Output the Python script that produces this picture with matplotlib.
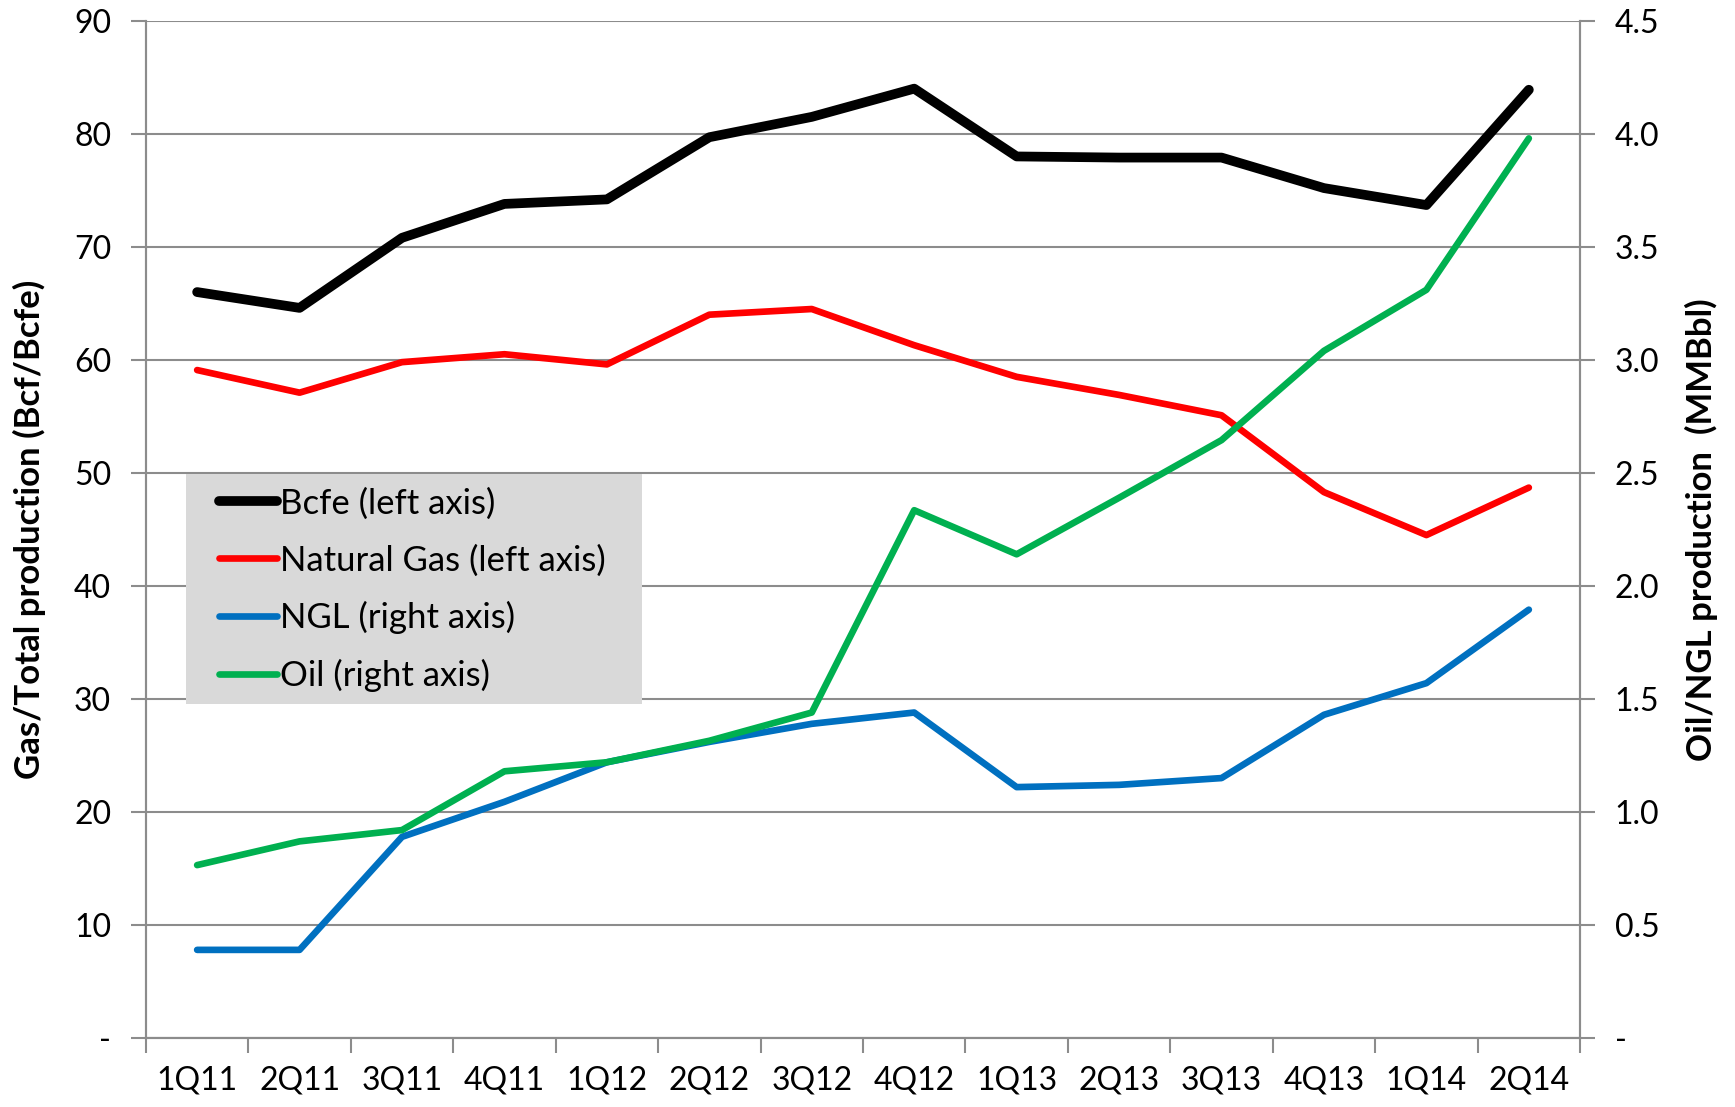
import numpy as np
import matplotlib.pyplot as plt
from matplotlib.patches import Rectangle
from matplotlib.ticker import FixedLocator, NullFormatter

plt.rcParams['font.family'] = ['Lato', 'DejaVu Sans']

quarters = ['1Q11', '2Q11', '3Q11', '4Q11', '1Q12', '2Q12', '3Q12', '4Q12',
            '1Q13', '2Q13', '3Q13', '4Q13', '1Q14', '2Q14']

# left axis (Bcf / Bcfe)
bcfe = [66.0, 64.6, 70.8, 73.8, 74.2, 79.7, 81.5, 84.0, 78.0, 77.9, 77.9, 75.2, 73.7, 83.9]
natgas = [59.1, 57.1, 59.8, 60.5, 59.6, 64.0, 64.5, 61.3, 58.5, 56.9, 55.1, 48.3, 44.5, 48.7]

# right axis (MMBbl)
ngl = [0.39, 0.39, 0.89, 1.045, 1.22, 1.31, 1.39, 1.44, 1.11, 1.12, 1.15, 1.43, 1.57, 1.895]
oil = [0.765, 0.87, 0.92, 1.18, 1.22, 1.315, 1.44, 2.335, 2.14, 2.39, 2.645, 3.04, 3.31, 3.98]

left_ticks = [0, 10, 20, 30, 40, 50, 60, 70, 80, 90]
left_labels = ['-', '10', '20', '30', '40', '50', '60', '70', '80', '90']
right_labels = ['-', '0.5', '1.0', '1.5', '2.0', '2.5', '3.0', '3.5', '4.0', '4.5']

grid_col = '#8c8c8c'

fig = plt.figure(figsize=(17.35, 11.07), dpi=100)
ax = fig.add_axes([0.0841, 0.0623, 0.8266, 0.9189])
ax2 = ax.twinx()

x = np.arange(len(quarters))

lb, = ax.plot(x, bcfe, color='black', lw=7, solid_capstyle='round', solid_joinstyle='round')
lg, = ax.plot(x, natgas, color='#ff0000', lw=4.8, solid_capstyle='round', solid_joinstyle='round')
ln, = ax2.plot(x, ngl, color='#0070c0', lw=4.8, solid_capstyle='round', solid_joinstyle='round')
lo, = ax2.plot(x, oil, color='#00b050', lw=4.8, solid_capstyle='round', solid_joinstyle='round')

ax.set_xlim(-0.5, len(quarters) - 0.5)
ax.set_ylim(0, 90)
ax2.set_ylim(0, 4.5)

ax.set_yticks(left_ticks)
ax.set_yticklabels(left_labels)
ax2.set_yticks(np.arange(0, 4.51, 0.5))
ax2.set_yticklabels(right_labels)

ax.set_xticks(x)
ax.set_xticklabels(quarters)
ax.xaxis.set_minor_locator(FixedLocator(np.arange(-0.5, len(quarters), 1.0)))
ax.xaxis.set_minor_formatter(NullFormatter())
ax.tick_params(axis='x', which='major', length=0, pad=20, labelsize=23)
ax.tick_params(axis='x', which='minor', length=11, width=1.5, color=grid_col, direction='out')
ax.tick_params(axis='y', length=11, width=1.5, color=grid_col, labelsize=23, pad=14)
ax2.tick_params(axis='y', length=11, width=1.5, color=grid_col, labelsize=23, pad=14)

ax.grid(axis='y', color=grid_col, lw=1.5)
ax.set_axisbelow(True)
for a in (ax, ax2):
    a.spines['top'].set_visible(False)
    for s in ('left', 'right', 'bottom'):
        a.spines[s].set_color(grid_col)
        a.spines[s].set_linewidth(1.5)
ax.set_zorder(1)
ax2.set_zorder(2)
ax.patch.set_visible(False)
ax2.patch.set_visible(False)

ax.set_ylabel('Gas/Total production (Bcf/Bcfe)', fontsize=25, fontweight='bold', labelpad=20)
ax2.set_ylabel('Oil/NGL production  (MMBbl)', fontsize=25, fontweight='bold', labelpad=18)

# legend background box
ax2.add_patch(Rectangle((0.0279, 0.3288), 0.318, 0.2257, transform=ax2.transAxes,
                        facecolor='#d9d9d9', edgecolor='none', zorder=1))

leg = ax2.legend([lb, lg, ln, lo],
                 ['Bcfe (left axis)', 'Natural Gas (left axis)', 'NGL (right axis)', 'Oil (right axis)'],
                 loc='upper left', bbox_to_anchor=(0.0509, 0.5415), fontsize=25,
                 frameon=False, handlelength=1.66, handletextpad=0.1, labelspacing=0.71,
                 borderpad=0, borderaxespad=0)
leg.set_zorder(5)

fig.savefig('out.png', dpi=100)
